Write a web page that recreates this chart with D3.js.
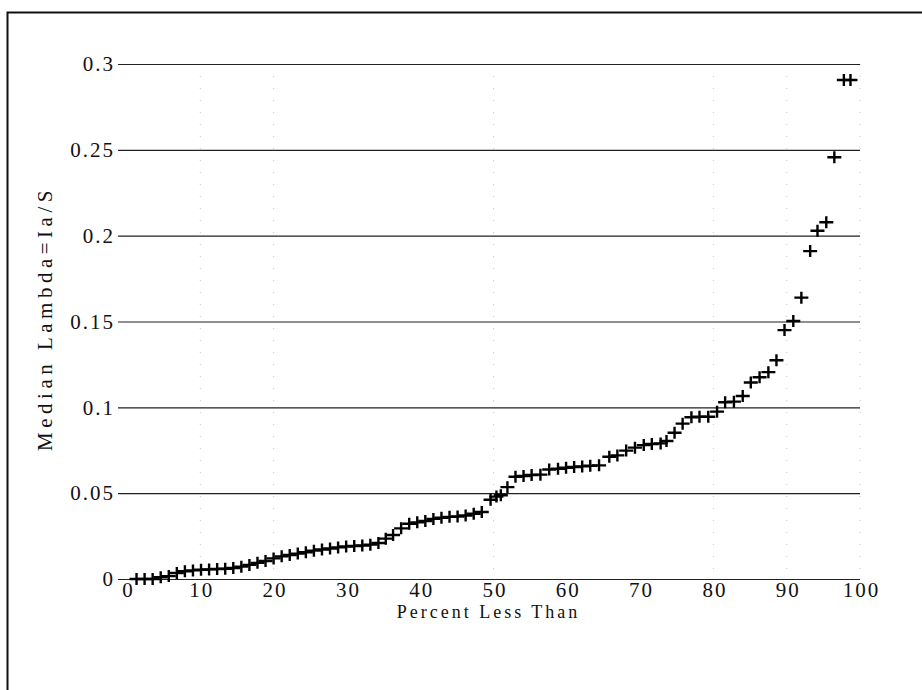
<!DOCTYPE html>
<html>
<head>
<meta charset="utf-8">
<script src="https://cdn.jsdelivr.net/npm/d3@7"></script>
<style>
  body { margin: 0; background: #fff; }
  text { font-family: "Liberation Serif", "DejaVu Serif", serif; fill: #111; }
</style>
</head>
<body>
<div class="chart"></div>
<script>
// percent less than (x) and median lambda (y)
const pct = [1.3, 2.4, 3.5, 4.6, 5.7, 6.8, 7.9, 9.0, 10.1, 11.2, 12.3, 13.4, 14.5, 15.6, 16.7, 17.8, 18.9, 20.0,
  21.1, 22.2, 23.3, 24.4, 25.5, 26.6, 27.7, 28.8, 29.9, 31.0, 32.1, 33.2, 34.3, 35.3, 36.3, 37.4, 38.5, 39.6,
  40.7, 41.8, 42.9, 44.0, 45.1, 46.2, 47.3, 48.4, 49.6, 50.4, 51.0, 51.9, 53.0, 54.1, 55.2, 56.4, 57.6, 58.8,
  59.9, 61.0, 62.1, 63.2, 64.4, 65.8, 66.9, 68.1, 69.3, 70.5, 71.6, 72.8, 73.6, 74.7, 75.8, 77.0, 78.1, 79.3,
  80.5, 81.6, 82.8, 84.0, 85.1, 86.3, 87.5, 88.6, 89.7, 90.9, 92.0, 93.2, 94.2, 95.4, 96.5, 97.8, 98.7]
const lambda = [0.000, 0.000, 0.000, 0.001, 0.0017, 0.0035, 0.0045, 0.005, 0.0054, 0.0056, 0.0058, 0.006, 0.0064,
  0.0072, 0.0082, 0.0094, 0.0105, 0.012, 0.0132, 0.014, 0.0148, 0.0156, 0.0165, 0.0172, 0.0178, 0.0184, 0.0189,
  0.0192, 0.0195, 0.0200, 0.021, 0.0235, 0.0256, 0.0295, 0.0322, 0.0330, 0.0338, 0.0350, 0.0357, 0.0362, 0.0364,
  0.0370, 0.0380, 0.0390, 0.0462, 0.0480, 0.0488, 0.0535, 0.0596, 0.0600, 0.0606, 0.0608, 0.0638, 0.0642, 0.0648,
  0.0652, 0.0656, 0.0660, 0.0662, 0.0712, 0.0720, 0.0748, 0.0765, 0.0780, 0.0786, 0.0790, 0.0804, 0.0852, 0.0905,
  0.0942, 0.0945, 0.0945, 0.0975, 0.1030, 0.1033, 0.1066, 0.1145, 0.1175, 0.1205, 0.1274, 0.1450, 0.1503, 0.1639,
  0.1910, 0.2029, 0.2078, 0.2457, 0.2907, 0.2907]
const xTicks = [0, 10, 20, 30, 40, 50, 60, 70, 80, 90, 100]
const yTicks = [0, 0.05, 0.1, 0.15, 0.2, 0.25, 0.3]
const dottedAt = [10, 20, 50, 80, 90, 100]

const margin = {top: 64, right: 62, bottom: 111, left: 127},
    width = 922 - margin.left - margin.right,
    height = 690 - margin.top - margin.bottom

const svg = d3.select(".chart").append("svg")
    .attr("width", 922)
    .attr("height", 690)

// scanned page frame
svg.append("path")
    .attr("d", "M7.5,690 V12.5 H922")
    .attr("fill", "none")
    .attr("stroke", "#111")
    .attr("stroke-width", 2)

const g = svg.append("g")
    .attr("transform", "translate(" + margin.left + "," + margin.top + ")")

const x = d3.scaleLinear().domain([0, 100]).range([0, width])
const y = d3.scaleLinear().domain([0, 0.3]).range([height, 0])

// faint dotted verticals left over in the scan
g.selectAll(".vgrid")
    .data(dottedAt)
  .enter().append("line")
    .attr("class", "vgrid")
    .attr("x1", function(d) { return x(d) })
    .attr("x2", function(d) { return x(d) })
    .attr("y1", 0)
    .attr("y2", height)
    .attr("stroke", "#c8c8c8")
    .attr("stroke-width", 1)
    .attr("stroke-dasharray", "1,11")

const yAxis = d3.axisLeft(y)
    .tickValues(yTicks)
    .tickSize(-width - 9)
    .tickPadding(3)
    .tickFormat(function(d) { return d === 0 ? "0" : String(+d.toFixed(2)) })

g.append("g")
    .attr("class", "y axis")
    .attr("transform", "translate(-9,0)")
    .call(yAxis)
    .call(function(s) { s.select(".domain").remove() })

g.selectAll(".y.axis .tick line")
    .attr("stroke", "#222")
    .attr("stroke-width", 1.2)
g.selectAll(".y.axis .tick text")
    .style("font-size", "21px")
    .style("letter-spacing", "2px")

const xAxis = d3.axisBottom(x)
    .tickValues(xTicks)
    .tickSize(0)
    .tickPadding(3)

g.append("g")
    .attr("class", "x axis")
    .attr("transform", "translate(0," + height + ")")
    .call(xAxis)
    .call(function(s) { s.select(".domain").remove() })
g.selectAll(".x.axis .tick text")
    .style("font-size", "21px")
    .style("letter-spacing", "2px")
    .attr("dx", "1")

g.append("text")
    .attr("x", width / 2 - 5)
    .attr("y", height + 39)
    .style("text-anchor", "middle")
    .style("font-size", "18px")
    .style("letter-spacing", "3px")
    .text("Percent Less Than")

g.append("text")
    .attr("transform", "translate(-75," + (height / 2 - 3) + ") rotate(-90)")
    .style("text-anchor", "middle")
    .style("font-size", "21px")
    .style("letter-spacing", "4.5px")
    .text("Median Lambda=Ia/S")

const pts = pct.map(function(d, i) { return {p: d, v: lambda[i]} })

const mark = g.selectAll(".mark")
    .data(pts)
  .enter().append("g")
    .attr("class", "mark")
    .attr("transform", function(d) { return "translate(" + x(d.p) + "," + y(d.v) + ")" })

mark.append("path")
    .attr("d", "M-7,0 H7 M0,-6 V6")
    .attr("stroke", "#000")
    .attr("stroke-width", 2.4)
</script>
</body>
</html>
